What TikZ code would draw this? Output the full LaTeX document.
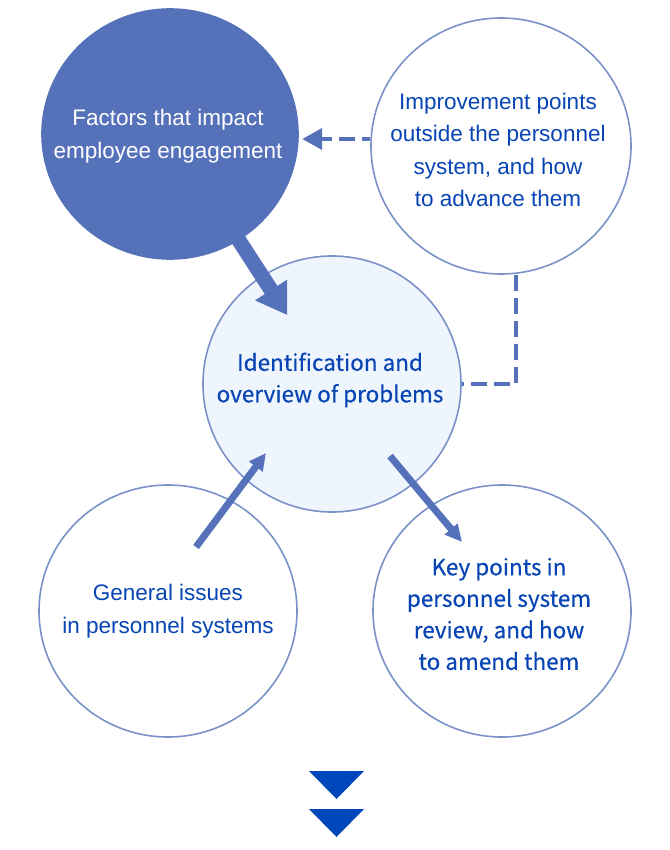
\documentclass[tikz,border=0pt]{standalone}
\usepackage{fontspec}
\setmainfont{Liberation Sans}
\newfontfamily\notojp{Noto Sans CJK JP}[FakeBold=0.4]
\usetikzlibrary{arrows.meta,shapes.geometric}
\definecolor{mainblue}{RGB}{84,113,185}
\definecolor{ringblue}{RGB}{122,146,200}
\definecolor{paleblue}{RGB}{239,245,253}
\definecolor{textblue}{RGB}{8,69,180}
\definecolor{markblue}{RGB}{0,71,187}
\tikzset{
  bubble/.style={ellipse,draw=ringblue,line width=1.6pt,fill=white,inner sep=0pt,minimum width=258pt,minimum height=252pt},
  bubbletext/.style={align=center,text=textblue,inner sep=0pt,font=\fontsize{22.5}{32.5}\selectfont},
  nototext/.style={bubbletext,font=\notojp\fontsize{22.5}{31.5}\selectfont},
  bigarrow/.style={draw=mainblue,line width=15pt,-{Triangle[width=36pt,length=30pt]}},
  thinarrow/.style={draw=mainblue,line width=7pt,-{Triangle[width=16pt,length=17pt]}},
  dashline/.style={draw=mainblue,line width=4pt,dash pattern=on 16pt off 7pt},
  dasharrow/.style={dashline,dash phase=8pt,-{Triangle[width=21pt,length=20pt]}}
}
\begin{document}
\begin{tikzpicture}[x=1pt,y=-1pt]
\useasboundingbox (0,0) rectangle (669,850);
% circles
\node[bubble,fill=mainblue,draw=mainblue,minimum width=256pt,minimum height=250pt] (fac) at (170,134) {};
\node[bubble,minimum width=260pt,minimum height=256pt] (imp) at (501,146) {};
\node[bubble,fill=paleblue,minimum height=256pt] (idn) at (332,384) {};
\node[bubble] (gen) at (168,611) {};
\node[bubble] (key) at (502,611) {};
% texts
\node[bubbletext,text=white] (fac-text) at (168,136) {Factors that impact\\employee engagement};
\node[bubbletext] (imp-text) at (498,150) {Improvement points\\outside the personnel\\system, and how\\to advance them};
\node[nototext] (idn-text) at (330,380) {Identification and\\overview of problems};
\node[bubbletext] (gen-text) at (168,611) {General issues\\in personnel systems};
\node[nototext] (key-text) at (499,614) {Key points in\\personnel system\\review, and how\\to amend them};
% connectors
\draw[bigarrow,shorten <=90pt,shorten >=82pt] (fac.center) -- (idn.center);
\coordinate (gen-tail) at (196,547);
\coordinate (idn-tip) at (266,453);
\draw[thinarrow] (gen-tail) -- (idn-tip);
\coordinate (idn-tail) at (390,456);
\coordinate (key-tip) at (462,542);
\draw[thinarrow] (idn-tail) -- (key-tip);
\draw[dasharrow] ([yshift=7pt]imp.west) -- ++(-68,0);
\draw[dashline] ([xshift=15pt]imp.south) |- (idn.east);
% down marks
\foreach \t in {771,809}{\fill[markblue](309,\t)--(364,\t)--(336.5,\t+28)--cycle;}
\end{tikzpicture}
\end{document}
